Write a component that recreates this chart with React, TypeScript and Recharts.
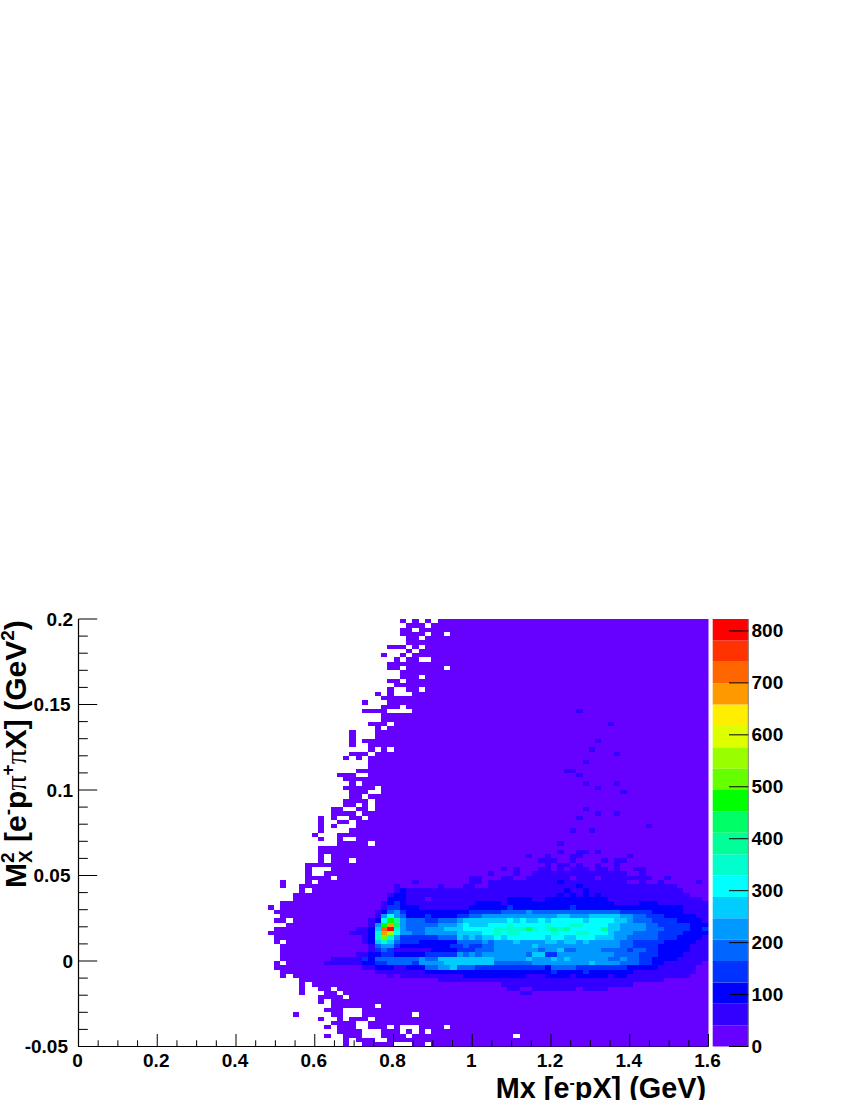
import React from "react";
import { ScatterChart, Scatter, XAxis, YAxis, BarChart, Bar } from "recharts";

const FONT = "'Liberation Sans', Arial, sans-serif";
const X_TICKS = [0,0.05,0.1,0.15,0.2,0.25,0.3,0.35,0.4,0.45,0.5,0.55,0.6,0.65,0.7,0.75,0.8,0.85,0.9,0.95,1,1.05,1.1,1.15,1.2,1.25,1.3,1.35,1.4,1.45,1.5,1.55,1.6];
const Y_TICKS = [-0.05,-0.04,-0.03,-0.02,-0.01,0,0.01,0.02,0.03,0.04,0.05,0.06,0.07,0.08,0.09,0.1,0.11,0.12,0.13,0.14,0.15,0.16,0.17,0.18,0.19,0.2];
const X_MAJOR = [0,0.2,0.4,0.6,0.8,1,1.2,1.4,1.6];
const Y_MAJOR = [-0.05,0,0.05,0.1,0.15,0.2];
const Z_TICKS = [0,100,200,300,400,500,600,700,800];
const Z_MAX = 823;
const PALETTE = ["#6600ff","#3300ff","#0000ff","#0033ff","#0066ff","#0099ff","#00ccff","#00ffff","#00ffcc","#00ff99","#00ff66","#00ff00","#66ff00","#99ff00","#ddff00","#ffee00","#ff9900","#ff6600","#ff3300","#ff0000"];
const LEVEL_CHARS = "0123456789abcdefghij";
const N_BINS = 100;
const FIRST_COL = 30;

// one string per y bin, top row first; columns start at bin 30; '.' = empty bin; shorter rows continue with the lowest colour level
const ROWS = [
".......... .......... .0.0.0.000",
".......... .......... ..000.0000",
".......... .......... .00.000000",
".......... .......... .0000.00.0",
".......... .......... ..00.00000",
".......... .......... ..00000000",
".......... .........0 00.0.00000",
".......... .......... ..0.000000",
".......... ........0. .0.0000000",
".......... .......... 0.00..0000",
".......... .........0 0000000000",
".......... .........0 0.000000.0",
".......... .......... .000000000",
".......... .......... .000.00000",
".......... .........0 0.00000000",
".......... .......... 0000000000",
".......... .........0 ..00.00000",
".......... .......0.0 ...0000000",
".......... ........00 0000000000",
".......... .....0...0 0000000000",
".......... ........00 0.00000000",
".......... .....0000. ...0000000 0000000000 0000000000 0000000000 0000000000 0000000000",
".......... ........00 0000000000",
".......... ........00 0000000000",
".......... ......000. 0000000000 0000000000 0000000000 0000000000",
".......... .......0.0",
".......... ...0...000",
".......... ...0...000",
".......... ...0.00000",
".......... ...0..0000",
".......... ......0.0.",
".......... ...000.000",
".......... ..0.0.0000",
".......... ......0000",
".......... ......0000",
".......... ....000000",
".......... .000..0000",
".......... ..00000000",
".......... ...0.00000",
".......... ..00000.00",
".......... ...000..00",
".......... ...00.0000",
".......... ..0000.000",
".......... ..00.0.000",
".......... 00..00.000",
".......... 0000.00000",
"........0. 0..00.0000",
"........0. .00.000000",
"........0. 0...000000",
"........0. ...0000000",
".......0.. .000000000",
"........0. .0..000000",
".......... .00000.000",
"........00 0000000000",
"........00 0000000000",
"........0. 0000000000",
"........0. 000.000000",
"......0000 0000000000",
"......0... 0000000000",
"......0..0 0000000000",
"......0000 .000000000",
"..0...0.00 0000000000 0001000000 0011011111 1111112111 1111111001 0010000010",
"..0..00000 0000000000 1000000100 0110011111 1111111112 1111111111 1111100000",
".....0.000 0000000000 1211111111 1111111111 1111111211 2111111111 1111110000",
"....000000 0000000001 2211111111 1111111111 1111112121 2121111111 1111111000",
"....000000 0000000002 2211101111 1111111122 2211222222 2222111111 1111111110",
"..00000000 0000000012 3211111111 1112222122 2222222222 2222211112 2211111111",
"0.00000000 0000000013 3222111111 1122222232 2222222232 2222222222 2222221111",
".000000000 0000000124 5322222222 2233333444 4544444444 4444443333 3222221111",
"..00000000 0000000157 5422232222 3344555555 5555556655 5666665544 3332222211",
".00.000000 000000127b 9544433444 5666666676 7667677777 6777766544 4333322221",
"...0000000 00000015bg a544444555 6766677787 7777877788 7777665555 4433333222",
".000000000 00001126hj 8544455566 6777778888 8a87898977 7779665555 4443333223",
"0000000000 00011128gd 7554455555 6666778788 7777787778 8777655544 4433332222",
".000000000 00000128c8 5333333444 6565667677 7777677667 7766655444 4433322221",
".0.0000000 0000012686 4333222222 4444545556 5555665665 6555554433 3332222211",
"..00000000 0000001455 3222222223 3433445555 5565555555 5555554433 3322222111",
"..00000000 0000001343 1111112222 3334445555 5554556445 5554444344 3322222111",
"..00000000 0000112233 2222233333 5454555555 5466335555 5555544443 3322221111",
"..00000000 1111132444 4444544666 6666665555 5655565655 5555445443 3222211111",
".0.0000001 1111122334 4443555566 6666664444 4455555555 5655554443 3221111110",
".000000000 0000011222 1122244556 4443333333 3333244443 3333333222 2211111100",
"..00000000 0000000111 1111122222 2222222222 2222232222 3222222211 1111111100",
"..0.000000 0000000001 0111111111 1222222222 2111222212 2222122111 1111111000",
".....00000 0000000000 0000000111 1111111111 1111111111 1111111111 1110000000",
".....0.000 0000000000 0000000000 0000000111 1111111111 1111111100 0000000000",
".....0..00 .000000000 0000000000 0000000011 0011111110 1111000000 0000000000",
".....0...0 0.00000000 0000000000 0000000000 1100000000 0000000000 0000000000",
"........00 00.0000000",
"........0. 0000000000",
".......... 0000000.00",
".........0 00...00000",
"....0..... 00...00000 000.000000",
"........0. .0.000.000",
".......... 0000..0000",
".........0 .000..000. 0...0000.0",
".......... .0000...00 0.0.0.0000",
".........0 ..000...00 00.0000000 000000000.",
".......... ..0.000..0",
".......... ..0..00000 ...00.0000",
];

// sparse blue bins of the upper right area: [row, column]
const SPARSE_BINS = [
[21,79],[24,84],[28,82],[30,81],[31,85],[33,80],[35,77],[35,78],[36,79],[38,80],[38,85],[39,82],[40,86],[44,80],[45,82],[45,85],[46,79],[48,90],[49,78],[49,81],[52,76],[54,76],[54,79],[54,80],[54,82],
[55,71],[55,74],[55,78],[55,79],[55,87],[56,73],[56,74],[56,75],[56,78],[56,83],[56,85],[56,86],[57,74],[57,76],[57,77],[57,79],[57,82],[57,85],
[58,67],[58,69],[58,73],[58,74],[58,76],[58,78],[58,79],[58,80],[58,82],[58,83],[58,85],[58,88],[58,89],
[59,65],[59,69],[59,72],[59,73],[59,74],[59,75],[59,76],[59,77],[59,78],[59,79],[59,80],[59,81],[59,82],[59,83],[59,84],[59,85],[59,86],[59,89],
[60,62],[60,63],[60,67],[60,68],[60,71],[60,72],[60,73],[60,74],[60,75],[60,76],[60,77],[60,79],[60,80],[60,81],[60,83],[60,84],[60,85],[60,86],[60,87],[60,88],[60,89],[60,90],[60,93],
];

const sparseKey = new Set(SPARSE_BINS.map(([r, c]) => r * 1000 + c));
const cells: { x: number; y: number; level: number }[] = [];
ROWS.forEach((raw, r) => {
  const s = raw.replace(/ /g, "").padEnd(N_BINS - FIRST_COL, "0");
  for (let i = 0; i < N_BINS - FIRST_COL; i++) {
    if (s[i] === ".") continue;
    const c = i + FIRST_COL;
    let level = LEVEL_CHARS.indexOf(s[i]);
    if (level === 0 && sparseKey.has(r * 1000 + c)) level = 1;
    cells.push({ x: (c + 0.5) * (1.6 / N_BINS), y: 0.2 - (r + 0.5) * (0.25 / N_BINS), level });
  }
});

const bandStep = Z_MAX / PALETTE.length;
const bandRow: Record<string, number | string> = { name: "z" };
PALETTE.forEach((_, i) => { bandRow["b" + i] = bandStep; });
const bandData = [bandRow];

const PLOT_W = 630;
const PLOT_H = 427.5;
const CW = PLOT_W / N_BINS;
const CH = PLOT_H / N_BINS;

const CellShape = (p: any) => (
  <rect x={p.cx - CW / 2} y={p.cy - CH / 2} width={CW} height={CH} fill={PALETTE[p.payload.level]} shapeRendering="crispEdges" />
);

const near = (list: number[], v: number) => list.some((m) => Math.abs(m - v) < 1e-6);

const XTick = (p: any) => {
  const major = near(X_MAJOR, p.payload.value);
  const top = 1046.5;
  return (
    <g>
      <line x1={p.x} x2={p.x} y1={top} y2={top - (major ? 12.5 : 6.2)} stroke="#000" strokeWidth={1} />
      {major && (
        <text x={p.x - 1} y={1066.5} textAnchor="middle" fontFamily={FONT} fontWeight="bold" fontSize={19} fill="#000">
          {String(p.payload.value)}
        </text>
      )}
    </g>
  );
};

const YTick = (p: any) => {
  const major = near(Y_MAJOR, p.payload.value);
  const label = String(p.payload.value);
  const right = label.length <= 3 ? 73 : label.length === 4 ? 70.5 : 68;
  return (
    <g>
      <line x1={78.5} x2={78.5 + (major ? 18.7 : 9.3)} y1={p.y} y2={p.y} stroke="#000" strokeWidth={1} />
      {major && (
        <text x={right} y={p.y + 6.5} textAnchor="end" fontFamily={FONT} fontWeight="bold" fontSize={19} fill="#000">
          {label}
        </text>
      )}
    </g>
  );
};

const ZTick = (p: any) => (
  <g>
    <line x1={729} x2={748.3} y1={p.y} y2={p.y} stroke="#000" strokeWidth={1} />
    <text x={751.5} y={p.y + 6.5} textAnchor="start" fontFamily={FONT} fontWeight="bold" fontSize={19} fill="#000">
      {String(p.payload.value)}
    </text>
  </g>
);

const XTitle = () => (
  <text x={706} y={1098} textAnchor="end" fontFamily={FONT} fontWeight="bold" fontSize={28.8} fill="#000">
    Mx [e<tspan dy={-10} fontSize={16}>-</tspan><tspan dy={10}>pX] (GeV)</tspan>
  </text>
);

const YTitle = () => (
  <text transform="translate(26,888) rotate(-90)" fontFamily={FONT} fontWeight="bold" fontSize={30} fill="#000">
    M
    <tspan dy={-12} fontSize={19}>2</tspan>
    <tspan dy={18} dx={-10.5} fontSize={19}>X</tspan>
    <tspan dy={-6}> [e</tspan>
    <tspan dy={-12} fontSize={19}>-</tspan>
    <tspan dy={12}>p</tspan>
    <tspan fontFamily="'Liberation Serif', serif" fontWeight="normal">π</tspan>
    <tspan dy={-12} fontSize={19}>+</tspan>
    <tspan dy={12} fontFamily="'Liberation Serif', serif" fontWeight="normal">π</tspan>
    <tspan>X] (GeV</tspan>
    <tspan dy={-12} fontSize={19}>2</tspan>
    <tspan dy={12}>)</tspan>
  </text>
);

export default function App() {
  return (
    <div style={{ position: "absolute", left: 0, top: 0, width: 850, height: 1100, background: "#fff", overflow: "hidden" }}>
      <div style={{ position: "absolute", left: 0, top: 0 }}>
        <ScatterChart width={850} height={1100} margin={{ top: 619, right: 141.5, bottom: 0, left: 0 }}>
          <XAxis xAxisId="top" orientation="top" type="number" dataKey="x" domain={[0, 1.6]} height={0} tick={false} tickLine={false} axisLine={{ stroke: "#000", strokeWidth: 1 }} />
          <YAxis yAxisId="right" orientation="right" type="number" dataKey="y" domain={[-0.05, 0.2]} width={0} tick={false} tickLine={false} axisLine={{ stroke: "#999", strokeWidth: 1 }} />
          <Scatter xAxisId="main" yAxisId="main" data={cells} dataKey="level" shape={CellShape} isAnimationActive={false} />
          <XAxis xAxisId="main" type="number" dataKey="x" domain={[0, 1.6]} ticks={X_TICKS} interval={0} height={53.5} tick={XTick} tickLine={false} axisLine={{ stroke: "#000", strokeWidth: 1.2 }} allowDataOverflow label={{ content: XTitle }} />
          <YAxis yAxisId="main" type="number" dataKey="y" domain={[-0.05, 0.2]} ticks={Y_TICKS} interval={0} width={78.5} tick={YTick} tickLine={false} axisLine={{ stroke: "#000", strokeWidth: 1.2 }} allowDataOverflow label={{ content: YTitle }} />
        </ScatterChart>
      </div>
      <div style={{ position: "absolute", left: 0, top: 0 }}>
        <BarChart width={850} height={1100} data={bandData} barCategoryGap={0} margin={{ top: 619, right: 0, bottom: 53.5, left: 712.7 }}>
          <XAxis dataKey="name" hide />
          <YAxis orientation="right" type="number" domain={[0, Z_MAX]} ticks={Z_TICKS} interval={0} width={101.7} tick={ZTick} tickLine={false} axisLine={{ stroke: "#888", strokeWidth: 1 }} />
          {PALETTE.map((color, i) => (
            <Bar key={i} dataKey={"b" + i} stackId="z" fill={color} isAnimationActive={false} />
          ))}
        </BarChart>
      </div>
    </div>
  );
}
